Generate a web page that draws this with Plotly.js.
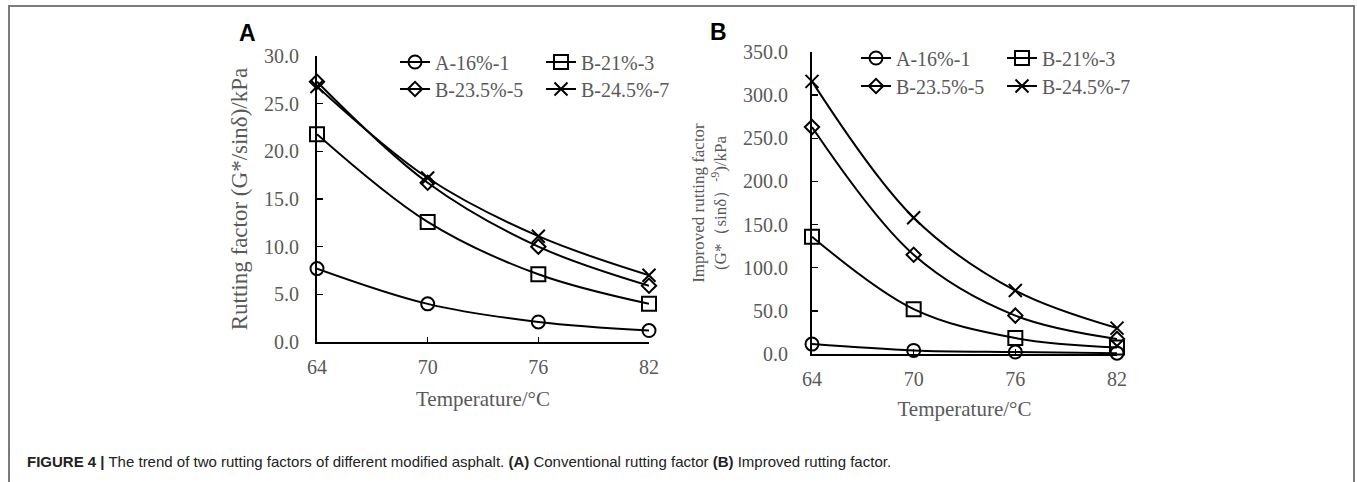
<!DOCTYPE html>
<html><head><meta charset="utf-8">
<script src="https://cdn.plot.ly/plotly-3.0.1.min.js"></script>
<style>html,body{margin:0;padding:0;background:#fff;}#chart{width:1357px;height:482px;}</style>
</head><body><div id="chart"></div>
<script>
// ---- data ----
const temps = [64, 70, 76, 82];
const seriesNames = ["A-16%-1", "B-21%-3", "B-23.5%-5", "B-24.5%-7"];
const rutA16 = [7.7, 4.0, 2.1, 1.2];
const rutB21 = [21.8, 12.6, 7.1, 4.0];
const rutB235 = [27.3, 16.7, 10.0, 5.9];
const rutB245 = [26.8, 17.2, 11.1, 7.0];
const impA16 = [11.5, 4.2, 2.3, 1.0];
const impB21 = [136, 52, 18.5, 7.6];
const impB235 = [263, 115, 44.5, 17.5];
const impB245 = [316, 158, 73.5, 30];
const yTicksA = [0, 5, 10, 15, 20, 25, 30];
const yTicksB = [0, 50, 100, 150, 200, 250, 300, 350];

const symbols = ["circle-open", "square-open", "diamond-open", "x-thin-open"];
const sizes = [13, 14, 11, 13];
const grey = "#595959";
const serif = "Liberation Serif, Times New Roman, serif";

// legend row assignment: first two series on row 1, last two on row 2
const legA = ["legend", "legend", "legend3", "legend3"];
const legB = ["legend2", "legend2", "legend4", "legend4"];

function mk(y, i, xa, ya, lg) {
  return {
    x: temps, y: y, name: seriesNames[i], xaxis: xa, yaxis: ya, legend: lg,
    mode: "lines+markers", cliponaxis: false,
    line: {color: "#000", width: 2, shape: "spline", smoothing: 1},
    marker: {symbol: symbols[i], size: sizes[i], color: "#000", line: {color: "#000", width: 2}}
  };
}
const dataA = [rutA16, rutB21, rutB235, rutB245];
const dataB = [impA16, impB21, impB235, impB245];
const traces = [];
dataA.forEach((d, i) => traces.push(mk(d, i, "x", "y", legA[i])));
dataB.forEach((d, i) => traces.push(mk(d, i, "x2", "y2", legB[i])));

const W = 1357, H = 482;
function px(v) { return v / W; }
function py(v) { return 1 - v / H; }

const axX = (dom, anchor, lblOff, titleOff) => ({
  domain: dom, anchor: anchor, range: [64, 82], tickvals: temps, ticktext: temps.map(String),
  showline: true, linecolor: "#000", linewidth: 2, mirror: false,
  ticks: "inside", ticklen: 5, tickwidth: 1.5, tickcolor: "#000",
  showgrid: false, zeroline: false, fixedrange: true,
  tickfont: {family: serif, size: 20, color: grey}, ticklabelstandoff: lblOff,
  title: {text: "Temperature/°C", font: {family: serif, size: 21, color: grey}, standoff: titleOff}
});
const axY = (dom, anchor, rng, tv, title, tsize, standoff, lblOff) => ({
  domain: dom, anchor: anchor, range: rng, tickvals: tv, ticktext: tv.map(v => v.toFixed(1)),
  showline: true, linecolor: "#000", linewidth: 2,
  ticks: "inside", ticklen: 6, tickwidth: 1.5, tickcolor: "#000",
  showgrid: false, zeroline: false, fixedrange: true,
  tickfont: {family: serif, size: 20, color: grey}, ticklabelstandoff: lblOff,
  title: {text: title, font: {family: serif, size: tsize, color: grey}, standoff: standoff}
});
const leg = (x, y) => ({
  x: px(x), y: py(y), xanchor: "left", yanchor: "middle", orientation: "h",
  entrywidth: 101, entrywidthmode: "pixels", tracegroupgap: 0, itemwidth: 30,
  bgcolor: "rgba(0,0,0,0)", borderwidth: 0, font: {family: serif, size: 20, color: grey}
});

const layout = {
  width: W, height: H, margin: {l: 0, r: 0, t: 0, b: 0, autoexpand: false},
  paper_bgcolor: "#fff", plot_bgcolor: "rgba(0,0,0,0)",
  showlegend: true,
  xaxis: axX([px(317), px(649)], "y", 6, 14),
  yaxis: axY([py(342), py(56)], "x", [0, 30], yTicksA, "Rutting factor (G*/sinδ)/kPa", 23, 10, 12),
  xaxis2: axX([px(812), px(1117)], "y2", 6, 12),
  yaxis2: axY([py(354), py(52)], "x2", [0, 350], yTicksB,
    "Improved rutting factor<br>(G*（sinδ）<sup>-9</sup>)/kPa", 17, 12, 18),
  legend: leg(395, 62),
  legend3: leg(395, 89),
  legend2: leg(856, 58),
  legend4: leg(856, 86),
  shapes: [
    {type: "rect", xref: "paper", yref: "paper", x0: px(9), x1: px(1354), y0: -0.05, y1: py(6),
     line: {color: "#7a7a7a", width: 2}, fillcolor: "rgba(0,0,0,0)"}
  ],
  annotations: [
    {text: "<b>A</b>", xref: "paper", yref: "paper", x: px(247), y: py(33), xanchor: "center", yanchor: "middle",
     showarrow: false, font: {family: "Liberation Sans, Arial, sans-serif", size: 23, color: "#000"}},
    {text: "<b>B</b>", xref: "paper", yref: "paper", x: px(718), y: py(32), xanchor: "center", yanchor: "middle",
     showarrow: false, font: {family: "Liberation Sans, Arial, sans-serif", size: 23, color: "#000"}},
    {text: "<b>FIGURE 4 |</b> The trend of two rutting factors of different modified asphalt. <b>(A)</b> Conventional rutting factor <b>(B)</b> Improved rutting factor.",
     xref: "paper", yref: "paper", x: px(25), y: py(461), xanchor: "left", yanchor: "middle", showarrow: false,
     font: {family: "Liberation Sans, Arial, sans-serif", size: 15, color: "#222"}}
  ]
};
Plotly.newPlot("chart", traces, layout, {staticPlot: true, displayModeBar: false});
</script></body></html>
